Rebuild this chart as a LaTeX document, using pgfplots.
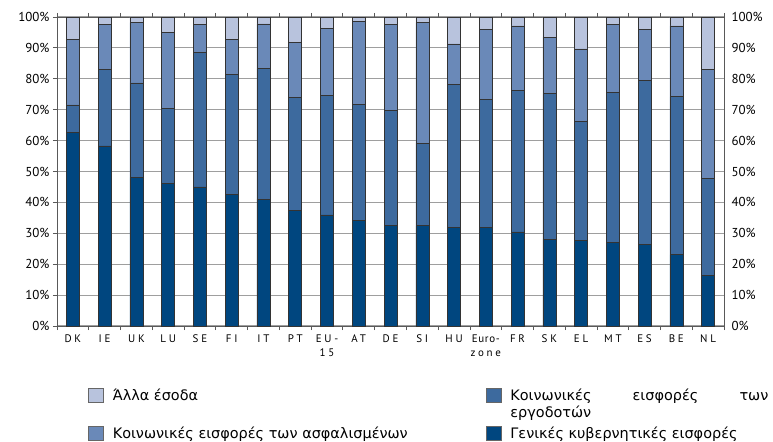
\documentclass[border=0pt]{standalone}
\usepackage{pgfplots}
\pgfplotsset{compat=1.18}
\usepackage{pgfplotstable}
\usepackage{fontspec}
\setmainfont{DejaVu Sans}
\newfontfamily\tickfont{PT Sans}
\newfontfamily\xfont[LetterSpace=25]{PT Sans}
\definecolor{GenGov}{HTML}{00467F}
\definecolor{Employ}{HTML}{3D6A9E}
\definecolor{Insured}{HTML}{6A89B8}
\definecolor{OtherRev}{HTML}{B8C3DD}

% share of revenue (%), bottom to top
\pgfplotstableread{
idx gen  empl ins  other
0   62.6 9.0  21.1 7.3
1   58.3 24.7 14.5 2.5
2   48.1 30.6 19.5 1.8
3   46.2 24.3 24.5 5.0
4   45.0 43.5 9.0  2.5
5   42.6 38.9 11.2 7.3
6   41.1 42.2 14.5 2.2
7   37.5 36.4 18.0 8.1
8   36.0 38.6 21.6 3.8
9   34.1 37.6 27.0 1.3
10  32.5 37.2 27.8 2.5
11  32.5 26.6 39.1 1.8
12  32.0 46.2 13.1 8.7
13  32.0 41.3 22.6 4.1
14  30.5 45.8 20.8 2.9
15  28.1 47.1 18.3 6.5
16  27.8 38.4 23.5 10.3
17  27.0 48.5 22.0 2.5
18  26.5 52.9 16.5 4.1
19  23.1 51.1 22.9 2.9
20  16.5 31.2 35.4 16.9
}\revenue

\begin{document}
\begin{tikzpicture}
\useasboundingbox (-57bp,-116bp) rectangle (716bp,326bp);
\pgfplotsset{
  swatch/.style={legend image code/.code={%
    \draw[##1, draw=black!60, line width=0.6pt] (0bp,-2bp) rectangle (15bp,12bp);}},
}
\begin{axis}[
    at={(0,0)}, anchor=south west,
    scale only axis, width=667bp, height=309bp,
    xmin=-0.5, xmax=20.5, ymin=0, ymax=100,
    ybar stacked, bar width=13bp,
    xtick={0,...,20},
    xticklabels={DK,IE,UK,LU,SE,FI,IT,PT,EU-\\15,AT,DE,SI,HU,{\addfontfeature{LetterSpace=6}Euro-}\\zone,FR,SK,EL,MT,ES,BE,NL},
    xticklabel style={font=\xfont\fontsize{11}{14}\selectfont, align=center, yshift=-1bp},
    major x tick style={draw=none},
    minor xtick={-0.5,0.5,...,20.5},
    ytick={0,10,...,100},
    yticklabel={\pgfmathprintnumber{\tick}\%},
    yticklabel style={font=\tickfont\fontsize{13}{15}\selectfont},
    /pgf/number format/assume math mode=true,
    ytick pos=left,
    ymajorgrids, grid style={black!38, line width=1.1pt},
    axis line style={black!65, line width=0.8pt},
    tick style={black!65, line width=0.8pt},
    tick align=outside, major tick length=4bp, minor tick length=4bp,
    legend columns=2,
    legend style={at={(axis description cs:0,0)}, anchor=north west,
      xshift=31bp, yshift=-62bp, draw=none, fill=none, inner sep=0pt,
      column sep=9bp, row sep=23.5bp,
      cells={anchor=base west},
      nodes={inner sep=0pt},
      font=\fontsize{14.5}{17.5}\selectfont},
]
\addplot+[forget plot, fill=GenGov, draw=black!80, line width=0.5pt] table[x=idx, y=gen] {\revenue};
\addplot+[forget plot, fill=Employ, draw=black!80, line width=0.5pt] table[x=idx, y=empl] {\revenue};
\addplot+[forget plot, fill=Insured, draw=black!80, line width=0.5pt] table[x=idx, y=ins] {\revenue};
\addplot+[forget plot, fill=OtherRev, draw=black!80, line width=0.5pt] table[x=idx, y=other] {\revenue};

\addlegendimage{swatch, fill=OtherRev}
\addlegendentry{\parbox[t]{364bp}{Άλλα έσοδα}}
\addlegendimage{swatch, fill=Employ}
\addlegendentry{\parbox[t]{258bp}{Κοινωνικές εισφορές των\linebreak εργοδοτών}}
\addlegendimage{swatch, fill=Insured}
\addlegendentry{\parbox[t]{364bp}{Κοινωνικές εισφορές των ασφαλισμένων}}
\addlegendimage{swatch, fill=GenGov}
\addlegendentry{\parbox[t]{258bp}{Γενικές κυβερνητικές εισφορές}}
\end{axis}
\begin{axis}[
    at={(0,0)}, anchor=south west,
    scale only axis, width=667bp, height=309bp,
    xmin=-0.5, xmax=20.5, ymin=0, ymax=100,
    hide x axis,
    axis y line*=right, y axis line style={draw=none},
    ytick={0,10,...,100}, major tick length=0pt,
    yticklabel={\pgfmathprintnumber{\tick}\%},
    yticklabel style={font=\tickfont\fontsize{13}{15}\selectfont, xshift=4bp},
    /pgf/number format/assume math mode=true,
]
\end{axis}
\end{tikzpicture}
\end{document}
